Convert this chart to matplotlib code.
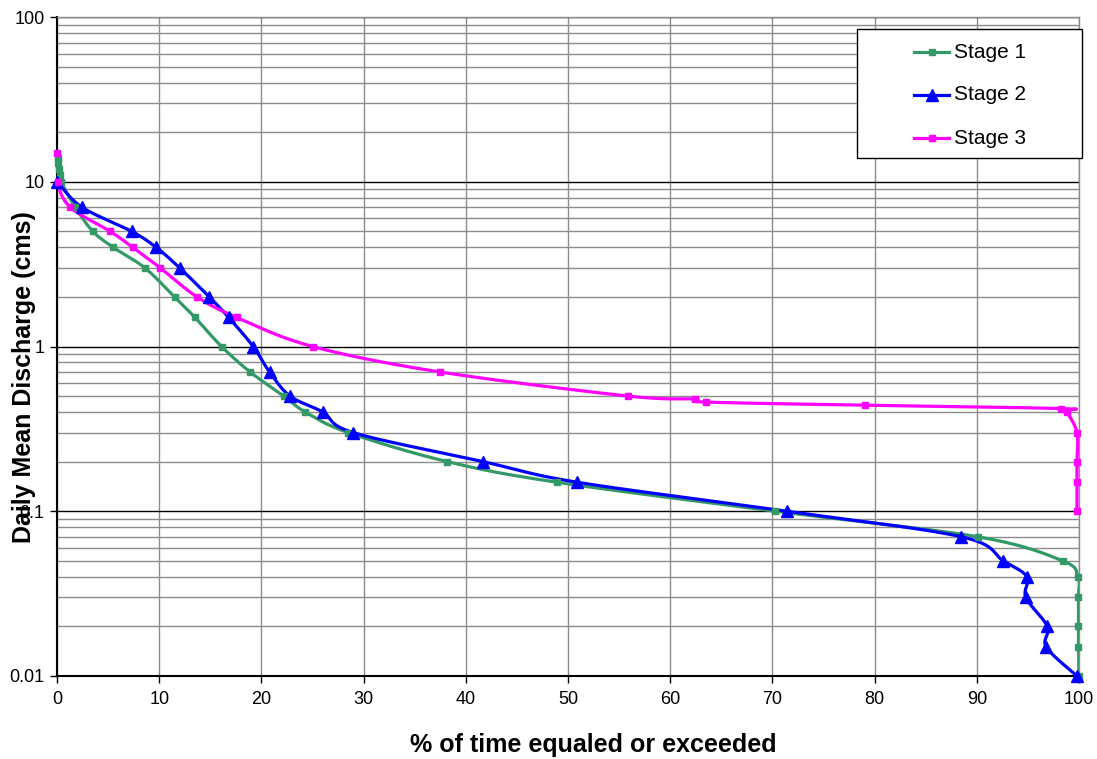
import numpy as np
import matplotlib
matplotlib.use("Agg")
import matplotlib.pyplot as plt
from matplotlib.lines import Line2D
from matplotlib.patches import Rectangle
from matplotlib.ticker import FixedLocator, NullFormatter

plt.rcParams['font.family'] = ['Liberation Sans', 'DejaVu Sans']

# ---- data ----
stage1_x = [0.05, 0.1, 0.15, 0.25, 0.4, 1.8, 3.5, 5.5, 8.6, 11.5, 13.5, 16.1, 18.9, 22.2, 24.3, 28.5,
            38.2, 48.9, 70.3, 90.1, 98.4, 99.9, 99.95, 99.95, 99.95, 100.0]
stage1_y = [14, 13, 12, 11, 10, 7, 5, 4, 3, 2, 1.5, 1.0, 0.7, 0.5, 0.4, 0.3,
            0.2, 0.15, 0.1, 0.07, 0.05, 0.04, 0.03, 0.02, 0.015, 0.01]

stage2_x = [0.0, 2.45, 7.3, 9.7, 12.0, 14.9, 16.8, 19.2, 20.8, 22.8, 26.0, 29.0, 41.7, 50.9, 71.4,
            88.5, 92.6, 94.9, 94.8, 96.9, 96.8, 99.8]
stage2_y = [10, 7, 5, 4, 3, 2, 1.5, 1.0, 0.7, 0.5, 0.4, 0.3, 0.2, 0.15, 0.1,
            0.07, 0.05, 0.04, 0.03, 0.02, 0.015, 0.01]

stage3_x = [0.0, 0.05, 1.3, 5.2, 7.4, 10.1, 13.7, 17.6, 25.0, 37.5, 55.9, 62.4, 63.5, 79.1,
            98.2, 98.8, 99.8, 99.8, 99.8, 99.8]
stage3_y = [15, 10, 7, 5, 4, 3, 2, 1.5, 1.0, 0.7, 0.5, 0.48, 0.46, 0.44,
            0.42, 0.40, 0.3, 0.2, 0.15, 0.1]

series_names = ["Stage 1", "Stage 2", "Stage 3"]
colors = ["#339966", "#0000FF", "#FF00FF"]
markers = ["s", "^", "s"]
msizes = [4.5, 8, 5]

xticks = [0, 10, 20, 30, 40, 50, 60, 70, 80, 90, 100]
yticks = [0.01, 0.1, 1, 10, 100]
ytick_labels = ["0.01", "0.1", "1", "10", "100"]

# ---- figure ----
W, H = 1097, 759
fig = plt.figure(figsize=(W / 100, H / 100), dpi=100)
L, R, T, B = 57, 1079, 17, 676
ax = fig.add_axes([L / W, 1 - B / H, (R - L) / W, (B - T) / H])
ax.set_xlim(0, 100)
ax.set_yscale('log')
ax.set_ylim(0.01, 100)


def smooth(xs, ys, n=20):
    # Catmull-Rom smoothing in screen-proportional space (rendering only)
    sx = (R - L) / 100.0
    sy = (B - T) / 4.0
    P = np.column_stack([np.asarray(xs) * sx, np.log10(ys) * sy])
    out = [P[0]]
    for i in range(len(P) - 1):
        p0 = P[i - 1] if i > 0 else P[i]
        p1, p2 = P[i], P[i + 1]
        p3 = P[i + 2] if i + 2 < len(P) else P[i + 1]
        c1 = p1 + (p2 - p0) / 6.0
        c2 = p2 - (p3 - p1) / 6.0
        t = np.linspace(0, 1, n)[1:, None]
        seg = ((1 - t) ** 3) * p1 + 3 * ((1 - t) ** 2) * t * c1 + 3 * (1 - t) * t ** 2 * c2 + t ** 3 * p2
        out.extend(seg)
    out = np.array(out)
    return out[:, 0] / sx, 10 ** (out[:, 1] / sy)


# grid
for xv in xticks:
    ax.axvline(xv, color="#8c8c8c", lw=1.0, zorder=0)
for dec in [0.01, 0.1, 1, 10]:
    for m in range(2, 10):
        ax.axhline(dec * m, color="#8c8c8c", lw=1.0, zorder=0)
for yv in yticks:
    ax.axhline(yv, color="#000000", lw=1.0, zorder=0.5)

data = [(stage1_x, stage1_y), (stage2_x, stage2_y), (stage3_x, stage3_y)]
for (xs, ys), c, mk, ms in zip(data, colors, markers, msizes):
    cx, cy = smooth(xs, ys)
    ax.plot(cx, cy, color=c, lw=2.3, zorder=3, solid_capstyle='round')
    ax.plot(xs, ys, linestyle='none', marker=mk, color=c, markersize=ms, zorder=4, clip_on=False)

ax.set_xticks(xticks)
ax.set_xticklabels([str(v) for v in xticks])
ax.yaxis.set_major_locator(FixedLocator(yticks))
ax.set_yticklabels(ytick_labels)
ax.yaxis.set_minor_locator(FixedLocator([]))
ax.yaxis.set_minor_formatter(NullFormatter())
ax.tick_params(axis='both', labelsize=13, length=5, width=1, direction='out', colors='black')
ax.tick_params(axis='x', pad=6)
ax.tick_params(axis='y', pad=4)

for s in ['top', 'right']:
    ax.spines[s].set_color('#8c8c8c')
    ax.spines[s].set_linewidth(1.0)
ax.spines['left'].set_linewidth(1.5)
ax.spines['bottom'].set_linewidth(1.5)

fig.text(593 / W, 1 - 745 / H, "% of time equaled or exceeded", ha='center', va='center',
         fontsize=18, fontweight='bold')
fig.text(24 / W, 1 - 377 / H, "Daily Mean Discharge (cms)", ha='center', va='center',
         rotation=90, fontsize=18, fontweight='bold', zorder=10)

# ---- legend box (drawn in figure pixel coordinates) ----
def fx(px):
    return px / W


def fy(py):
    return 1 - py / H


fig.add_artist(Rectangle((fx(857), fy(158)), fx(1082) - fx(857), fy(29) - fy(158),
                         transform=fig.transFigure, facecolor='white', edgecolor='black',
                         lw=1.0, zorder=20))
for i, (name, c, mk, ms) in enumerate(zip(series_names, colors, markers, msizes)):
    yy = fy(52 + 43 * i)
    fig.add_artist(Line2D([fx(914), fx(949)], [yy, yy], transform=fig.transFigure,
                          color=c, lw=2.3, zorder=21))
    fig.add_artist(Line2D([fx(931.5)], [yy], transform=fig.transFigure, color=c,
                          marker=mk, markersize=ms, linestyle='none', zorder=22))
    fig.text(fx(954), yy, name, ha='left', va='center', fontsize=15, zorder=23)

fig.savefig("out.png", dpi=100)
